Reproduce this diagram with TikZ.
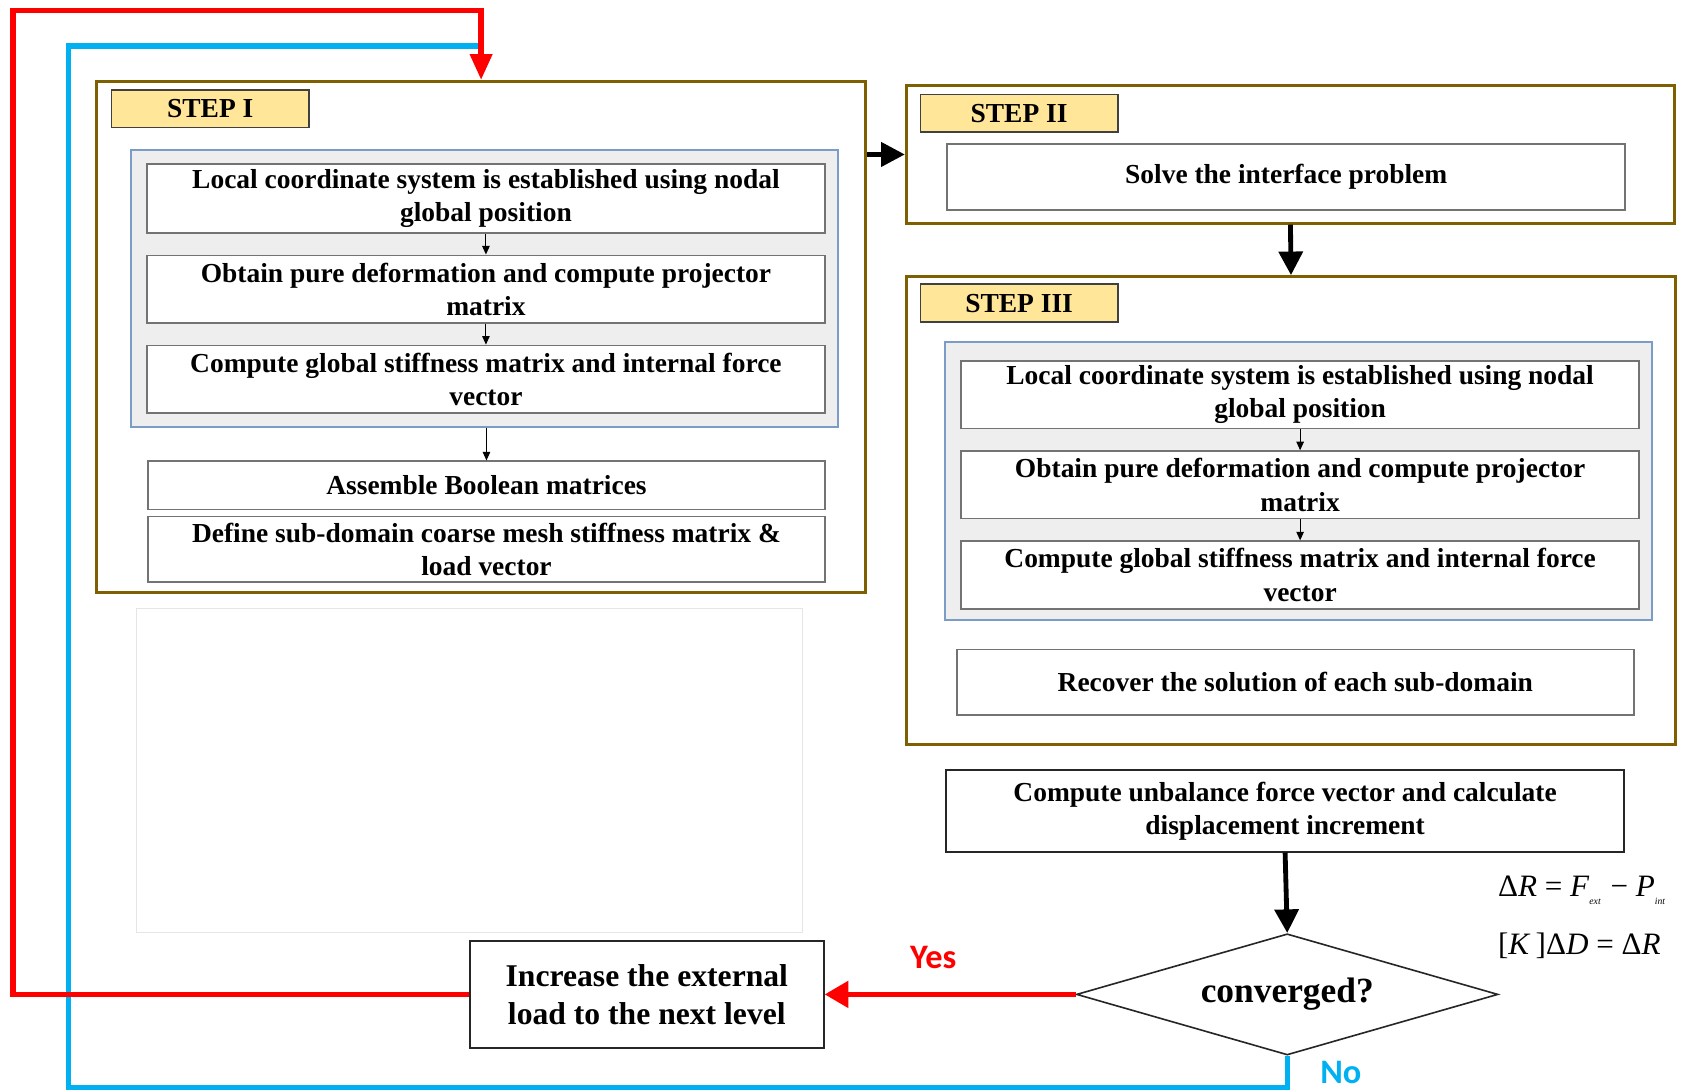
\documentclass[tikz,border=0pt]{standalone}
\usepackage{fontspec}
\setmainfont{Liberation Serif}
\newfontfamily\answerfont{Carlito}
\usetikzlibrary{arrows.meta,shapes.geometric}
\definecolor{stepgold}{RGB}{127,96,0}
\definecolor{tagfill}{RGB}{255,230,153}
\definecolor{groupedge}{RGB}{124,156,200}
\definecolor{groupfill}{RGB}{238,238,238}
\definecolor{loopred}{RGB}{255,0,0}
\definecolor{loopblue}{RGB}{0,176,240}
\newcommand\stepfont{\fontsize{25.6}{31}\selectfont\bfseries}
\newcommand\bigstepfont{\fontsize{29.5}{35}\selectfont\bfseries}
\newcommand\subfont{\fontsize{9}{9}\selectfont\itshape}

\begin{document}
\begin{tikzpicture}[x=1pt,y=-1pt,
  stage/.style={draw=stepgold, line width=3pt, inner sep=0pt},
  tag/.style={draw=black!75, fill=tagfill, line width=1.5pt, minimum width=184pt,
    minimum height=35pt, inner sep=0pt, font=\stepfont},
  group/.style={draw=groupedge, fill=groupfill, line width=1.5pt, inner sep=0pt},
  task/.style={draw=black!55, fill=white, line width=1.5pt, align=center,
    inner sep=0pt, font=\stepfont},
  smallarrow/.style={-{Triangle[length=8pt,width=7pt]}, line width=0.9pt},
  bigarrow/.style={-{Triangle[length=22pt,width=22pt]}, line width=4.5pt},
  loop/.style={line width=5pt},
  answer/.style={font=\answerfont\bfseries\fontsize{32}{32}\selectfont},
]
\useasboundingbox (0,0) rectangle (1568,1017);

% empty frame in the lower left
\draw[black!10, line width=1pt] (127,567) rectangle (748,869);

% ---------------- STEP I ----------------
\node[stage, minimum width=717pt, minimum height=476pt] (s1) at (448.5,314) {};
\node[tag] (t1) at (196,101.5) {STEP I};
\node[group, minimum width=659pt, minimum height=258pt] (g1) at (451.5,269) {};
\node[task, minimum width=632pt, minimum height=64pt] (a1) at (453,185)
  {Local coordinate system is established using nodal\\global position};
\node[task, minimum width=632pt, minimum height=63pt] (a2) at (453,269.5)
  {Obtain pure deformation and compute projector\\matrix};
\node[task, minimum width=632pt, minimum height=63pt] (a3) at (453,353.5)
  {Compute global stiffness matrix and internal force\\vector};
\node[task, minimum width=631pt, minimum height=45pt] (a4) at (453.5,452.5)
  {Assemble Boolean matrices};
\node[task, minimum width=631pt, minimum height=61pt] (a5) at (453.5,512)
  {Define sub-domain coarse mesh stiffness matrix \&\\load vector};
\draw[smallarrow] (a1.south) -- (a2.north);
\draw[smallarrow] (a2.south) -- (a3.north);
\draw[smallarrow] (g1.south -| a4.north) -- (a4.north);

% ---------------- STEP II ----------------
\node[stage, minimum width=716pt, minimum height=128pt] (s2) at (1203,144) {};
\node[tag] (t2) at (950,105.5) {STEP II};
\node[task, minimum width=632pt, minimum height=62pt] (b1) at (1199,165)
  {Solve the interface problem};

% ---------------- STEP III ----------------
\node[stage, minimum width=717pt, minimum height=436pt] (s3) at (1203.5,476) {};
\node[tag] (t3) at (950,282.5) {STEP III};
\node[group, minimum width=659pt, minimum height=259pt] (g3) at (1210.5,448.5) {};
\node[task, minimum width=632pt, minimum height=63pt] (c1) at (1212,368)
  {Local coordinate system is established using nodal\\global position};
\node[task, minimum width=632pt, minimum height=63pt] (c2) at (1212,452)
  {Obtain pure deformation and compute projector\\matrix};
\node[task, minimum width=632pt, minimum height=63pt] (c3) at (1212,536)
  {Compute global stiffness matrix and internal force\\vector};
\node[task, minimum width=631pt, minimum height=61pt] (c4) at (1207.5,636)
  {Recover the solution of each sub-domain};
\draw[smallarrow] (c1.south) -- (c2.north);
\draw[smallarrow] (c2.south) -- (c3.north);

% ---------------- convergence check ----------------
\node[task, draw=black!85, minimum width=632pt, minimum height=76pt] (cu) at (1198,756)
  {Compute unbalance force vector and calculate\\displacement increment};
\node[diamond, shape aspect=3.48, draw=black!85, line width=1.5pt, fill=white,
  inner sep=0pt, minimum width=393pt, minimum height=113pt,
  font=\fontsize{33}{33}\selectfont\bfseries]
  (dia) at (1200,927) {converged?};
\node[task, draw=black!85, minimum width=330pt, minimum height=100pt, font=\bigstepfont]
  (inc) at (603,927) {Increase the external\\load to the next level};

\node[font=\fontsize{29}{29}\selectfont, anchor=west] (eq1) at (1393,830)
  {Δ\textit{R} = \textit{F}\raisebox{-7pt}{\subfont ext}\hspace{2pt} − \textit{P}\raisebox{-7pt}{\subfont int}};
\node[font=\fontsize{29}{29}\selectfont, anchor=west] (eq2) at (1393,882)
  {[\textit{K}\,]Δ\textit{D} = Δ\textit{R}};

% ---------------- connectors ----------------
\draw[bigarrow] (s2.west -| s1.east) -- (s2.west);
\draw[bigarrow] (s2.south) -- (s3.north);
\draw[bigarrow] (cu.south) -- (dia.north);
\draw[loopred, -{Triangle[length=22pt,width=24pt]}, line width=5pt]
  (dia.west) -- (inc.east);

\coordinate (redcorner) at (12,10);
\coordinate (bluebottom) at (64,1014);
\coordinate (bluetop) at (448.5,43);
\draw[loop, loopblue] (dia.south) |- (bluebottom) |- (bluetop);
\draw[loop, loopred, -{Triangle[length=24pt,width=20pt]}]
  (inc.west) -| (redcorner) -| (s1.north);

\node[answer, text=loopred] (yes) at (870,893) {Yes};
\node[answer, text=loopblue] (no) at (1250,1000) {No};
\end{tikzpicture}
\end{document}
